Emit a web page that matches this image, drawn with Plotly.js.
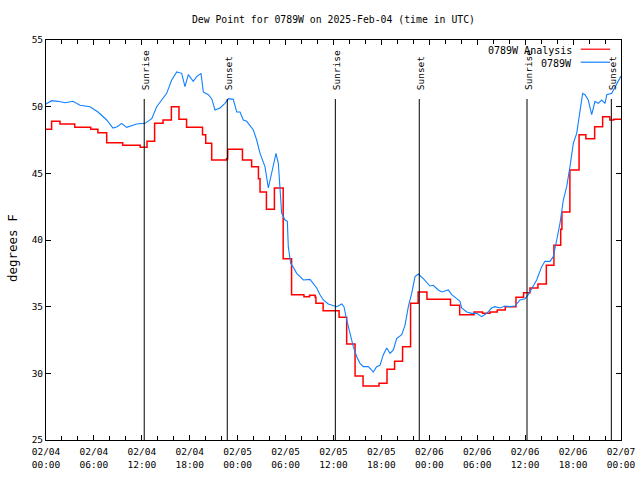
<!DOCTYPE html>
<html>
<head>
<meta charset="utf-8">
<script src="https://cdn.plot.ly/plotly-3.0.1.min.js"></script>
<style>html,body{margin:0;padding:0;background:#fff;}#chart{width:640px;height:480px;}</style>
</head>
<body>
<div id="chart"></div>
<script>
// Hours since 2025-02-04 00:00 UTC
const obsHours = [0,0.71,1.5,2.38,3.38,4.26,5.51,6.51,7.6,8.39,8.9,9.48,10.1,11.36,12.4,13.24,13.86,15.11,15.74,16.37,16.99,17.4,17.82,18.44,18.87,19.41,19.7,20.32,20.75,21.16,21.79,22.41,22.83,23.45,23.88,24.29,24.71,25.13,25.96,26.38,26.8,27.42,27.84,28.26,28.8,29.09,29.21,29.51,29.93,30.22,30.34,30.64,30.97,31.39,31.81,32.22,33.06,33.47,33.9,34.31,34.72,35.35,35.98,36.4,37.03,37.31,37.65,38.07,38.48,38.91,39.32,39.73,40.36,40.78,40.98,41.41,41.82,42.24,42.66,43.08,43.49,43.91,44.54,44.95,45.37,45.79,46.21,46.62,47.25,48.08,48.5,49.12,49.55,50.38,50.8,51.43,51.84,52.05,52.68,53.31,53.93,54.56,55.18,55.81,56.22,56.85,57.48,58.1,58.73,59.35,59.98,60.39,61.02,61.44,62.07,62.48,63.11,63.52,63.95,64.36,64.78,65.2,65.61,66.03,66.45,66.87,67.2,67.49,67.9,68.33,68.74,69.16,69.58,70.0,70.22,70.84,71.46,71.88,72];
const obsValues = [50.2,50.45,50.4,50.3,50.4,50.1,50.0,49.6,49.0,48.4,48.5,48.75,48.45,48.7,48.75,49.1,50.0,51.0,52.0,52.6,52.5,51.5,52.4,51.9,52.25,52.5,51.1,50.9,50.6,49.75,49.9,50.25,50.6,50.55,49.6,49.6,49.0,48.9,48.25,47.5,46.5,45.5,43.9,45.0,46.5,45.75,44.5,42.0,41.5,41.4,39.5,38.25,37.95,37.5,37.25,37.0,37.05,36.75,36.4,35.9,35.5,35.2,35.1,35.0,35.2,35.0,34.0,33.0,32.0,31.25,30.75,30.5,30.5,30.25,30.1,30.5,30.6,31.4,31.9,31.5,31.75,32.6,32.9,33.6,35.0,36.0,37.25,37.45,37.1,36.55,36.6,36.25,36.1,36.25,35.9,35.6,35.4,34.9,34.6,34.5,34.5,34.25,34.5,34.9,35.0,34.9,35.05,35.0,35.05,35.5,35.6,35.9,36.5,37.0,38.0,38.4,38.4,38.75,40.0,41.25,43.0,44.0,45.5,47.25,48.0,49.75,51.0,50.9,50.5,49.4,50.4,50.25,50.5,50.25,50.9,51.0,51.75,52.25,52.3];

const anaHours = [0,0.7,1.75,3.6,5.6,6.5,7.6,9.6,11.8,12.65,13.6,14.65,15.7,16.65,17.6,19.6,20.0,20.75,22.6,22.75,24.6,25.75,26.6,26.8,27.6,28.6,29.7,30.75,32.3,33.0,33.7,33.8,34.7,36.7,37.65,38.7,39.7,41.7,42.7,43.65,44.65,45.65,46.6,47.7,50.65,51.8,53.6,54.65,55.6,56.5,57.5,58.85,59.8,60.6,61.6,62.65,63.6,64.45,64.6,65.6,66.75,67.6,68.7,69.7,70.6,71.1,72];
const anaValues = [48.3,48.9,48.7,48.45,48.3,48.05,47.3,47.1,46.95,47.4,48.75,49.0,50.0,49.05,48.45,47.9,47.25,46.0,46.1,46.8,46.0,45.5,44.6,43.6,42.3,43.9,38.6,35.9,35.75,35.85,35.7,35.25,34.7,34.2,32.2,29.8,29.05,29.25,30.3,30.9,32.0,35.25,36.1,35.55,35.1,34.4,34.6,34.5,34.6,34.75,35.0,35.7,36.05,36.4,36.7,38.1,39.6,40.8,42.1,45.25,47.9,47.6,48.5,49.25,49.0,49.05,49.1];

const eventHours = [12.3,22.7,36.23,46.74,60.23,70.79];
const eventLabels = ['Sunrise','Sunset','Sunrise','Sunset','Sunrise','Sunset'];

const seriesNames = ['0789W Analysis','0789W'];
const seriesColors = ['#ff0000','#1080ff'];

const BASE = Date.UTC(2025,1,4,0,0,0);
function toDate(h){
  return new Date(BASE + h*3600e3).toISOString().slice(0,19).replace('T',' ');
}

const FONT = 'DejaVu Sans Mono, Liberation Mono, monospace';

const traces = [
  {x: anaHours.map(toDate), y: anaValues, type:'scatter', mode:'lines',
   line:{color:seriesColors[0], width:1.5, shape:'hv'}, name:seriesNames[0], showlegend:false},
  {x: obsHours.map(toDate), y: obsValues, type:'scatter', mode:'lines',
   line:{color:seriesColors[1], width:1.1}, name:seriesNames[1], showlegend:false}
];

const shapes = [];
const annotations = [];
eventHours.forEach((h,i)=>{
  shapes.push({type:'line', xref:'x', yref:'paper', x0:toDate(h), x1:toDate(h), y0:0, y1:0.8525,
    line:{color:'#000', width:1}});
  annotations.push({xref:'x', yref:'paper', x:toDate(h), y:0.87, text:eventLabels[i],
    textangle:-90, showarrow:false, xanchor:'center', yanchor:'bottom', xshift:1,
    font:{family:FONT, size:9.5, color:'#000'}});
});

// custom legend (text then sample line, right aligned)
const legY = [0.975, 0.9425];
seriesNames.forEach((n,i)=>{
  annotations.push({xref:'paper', yref:'paper', x:0.918, y:legY[i], text:n, showarrow:false,
    xanchor:'right', yanchor:'middle', font:{family:FONT, size:10, color:'#000'}});
  shapes.push({type:'line', xref:'paper', yref:'paper', x0:0.930, x1:0.981, y0:legY[i]+0.002, y1:legY[i]+0.002,
    line:{color:seriesColors[i], width:1.2}});
});

// y-axis title
annotations.push({xref:'paper', yref:'paper', x:-0.059, y:0.48, text:'degrees F', textangle:-90,
  showarrow:false, xanchor:'center', yanchor:'middle', font:{family:FONT, size:12.5, color:'#000'}});

const layout = {
  width:640, height:480,
  margin:{l:46, r:19, t:40, b:40},
  paper_bgcolor:'#fff', plot_bgcolor:'#fff',
  font:{family:FONT, size:10, color:'#000'},
  title:{text:'Dew Point for 0789W on 2025-Feb-04 (time in UTC)', x:0.521, xanchor:'center', y:0.96, yanchor:'middle',
    font:{family:FONT, size:9.8, color:'#000'}},
  xaxis:{type:'date', range:[toDate(0), toDate(72)], dtick:6*3600e3, tick0:toDate(0),
    tickformat:'%m/%d<br>%H:%M', ticks:'inside', ticklen:5, tickcolor:'#000',
    showline:true, linecolor:'#000', linewidth:1, mirror:'allticks', showgrid:false, zeroline:false,
    ticklabelstandoff:3,
    minor:{dtick:2*3600e3, ticks:'inside', ticklen:4, tickcolor:'#000', showgrid:false},
    tickfont:{family:FONT, size:9.5}},
  yaxis:{range:[25,55], dtick:5, ticks:'inside', ticklen:5, tickcolor:'#000',
    showline:true, linecolor:'#000', linewidth:1, mirror:'allticks', showgrid:false, zeroline:false,
    tickfont:{family:FONT, size:9.5}},
  showlegend:false,
  shapes:shapes,
  annotations:annotations
};

Plotly.newPlot('chart', traces, layout, {displayModeBar:false, staticPlot:true});
</script>
</body>
</html>
